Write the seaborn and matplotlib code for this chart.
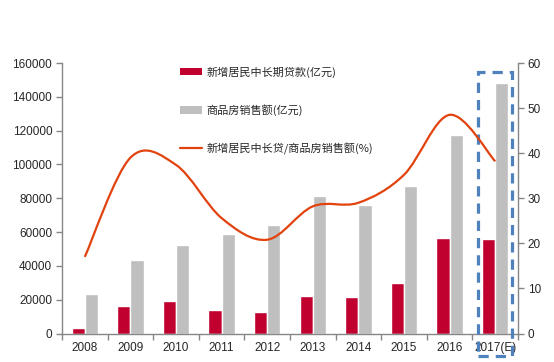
import numpy as np
import pandas as pd
import matplotlib
matplotlib.use("Agg")
import matplotlib.pyplot as plt
import seaborn as sns
from matplotlib.path import Path
from matplotlib.patches import PathPatch, Rectangle, Patch
from matplotlib.lines import Line2D

years = ["2008", "2009", "2010", "2011", "2012", "2013", "2014", "2015", "2016", "2017(E)"]
new_loans = [3300, 16300, 19300, 13900, 12700, 22200, 21600, 29900, 56600, 56000]
sales = [23400, 43600, 52400, 59000, 64300, 81500, 76100, 87400, 117600, 147900]
ratio = [17.0, 39.0, 37.4, 25.6, 20.8, 28.2, 29.0, 35.2, 48.5, 38.2]

lab_loans = "新增居民中长期贷款(亿元)"
lab_sales = "商品房销售额(亿元)"
lab_ratio = "新增居民中长贷/商品房销售额(%)"

RED = "#C0002F"
GRAY = "#BFBFBF"
LINE = "#E2430E"
BLUE = "#4F81BD"
SPINE = "#868686"

sns.set_style("ticks")
plt.rcParams["font.family"] = ["Liberation Sans", "Noto Sans CJK SC"]

df = pd.DataFrame({
    "year": years * 2,
    "value": new_loans + sales,
    "series": [lab_loans] * len(years) + [lab_sales] * len(years),
})

fig = plt.figure(figsize=(5.54, 3.62), dpi=100)
ax = fig.add_axes([62 / 554, 1 - 333.5 / 362, (518 - 62) / 554, (333.5 - 63) / 362])

sns.barplot(data=df, x="year", y="value", hue="series", order=years,
            hue_order=[lab_loans, lab_sales], palette=[RED, GRAY],
            width=0.58, gap=0, saturation=1, ax=ax, legend=False)

ax.set_xlim(-0.5, len(years) - 0.5)
ax.set_ylim(0, 160000)
ax.set_yticks(np.arange(0, 160001, 20000))
ax.set_xlabel("")
ax.set_ylabel("")
ax.tick_params(axis="x", which="major", length=0, labelsize=8.5, pad=6)
ax.set_xticks(np.arange(-0.5, len(years), 1.0), minor=True)
ax.tick_params(axis="x", which="minor", length=4, color=SPINE, width=1, direction="out")
ax.tick_params(axis="y", length=4, color=SPINE, width=1, direction="out", labelsize=8.5, pad=3)
for s in ["top", "right"]:
    ax.spines[s].set_visible(False)
for s in ["left", "bottom"]:
    ax.spines[s].set_color(SPINE)
    ax.spines[s].set_linewidth(1)

ax2 = ax.twinx()
ax2.set_ylim(0, 60)
ax2.set_yticks(np.arange(0, 61, 10))
ax2.tick_params(axis="y", length=4, color=SPINE, width=1, direction="out", labelsize=8.5, pad=3)
for s in ["top", "left", "bottom"]:
    ax2.spines[s].set_visible(False)
ax2.spines["right"].set_color(SPINE)
ax2.spines["right"].set_linewidth(1)

# smoothed line (Catmull-Rom -> cubic Bezier) through the data points
xs = np.arange(len(ratio), dtype=float)
pts = np.column_stack([xs, np.array(ratio, dtype=float)])
ext = np.vstack([pts[0], pts, pts[-1]])
verts = [tuple(pts[0])]
codes = [Path.MOVETO]
for i in range(len(pts) - 1):
    p0, p1, p2, p3 = ext[i], ext[i + 1], ext[i + 2], ext[i + 3]
    c1 = p1 + (p2 - p0) / 6.0
    c2 = p2 - (p3 - p1) / 6.0
    verts += [tuple(c1), tuple(c2), tuple(p2)]
    codes += [Path.CURVE4] * 3
ax2.add_patch(PathPatch(Path(verts, codes), facecolor="none", edgecolor=LINE, lw=1.6))

# dashed highlight box around the 2017 estimate
box = Rectangle((len(years) - 1 - 0.377, -13300), 0.745, 154400 + 13300,
                transform=ax.transData, fill=False, edgecolor=BLUE, lw=2.3,
                linestyle=(0, (3.2, 2.2)), clip_on=False, zorder=5)
ax.add_patch(box)

handles = [Patch(facecolor=RED, edgecolor="none"),
           Patch(facecolor=GRAY, edgecolor="none"),
           Line2D([], [], color=LINE, lw=1.6)]
leg = ax2.legend(handles, [lab_loans, lab_sales, lab_ratio], loc="upper left",
                 bbox_to_anchor=(0.259, 0.988), frameon=False, borderpad=0,
                 borderaxespad=0, labelspacing=2.4, handlelength=2.0,
                 handletextpad=0.4, prop={"family": ["Noto Sans CJK SC"], "size": 8})

fig.savefig("out.png", dpi=100)
